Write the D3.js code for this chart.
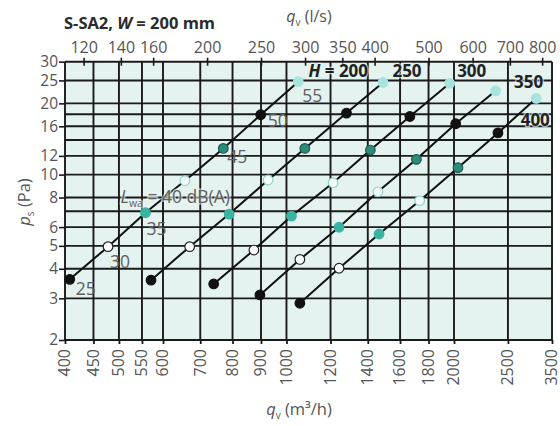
<!DOCTYPE html>
<html><head><meta charset="utf-8">
<script src="https://cdn.jsdelivr.net/npm/d3@7"></script>
<style>
html,body{margin:0;padding:0;background:#fff;}
svg text{font-family:"Open Sans","Noto Sans",sans-serif;}
</style></head>
<body>
<svg id="chart" width="560" height="426"></svg>
<script>
// ---- data ----
const xTickValues = [400,450,500,550,600,700,800,900,1000,1200,1400,1600,1800,2000,2500,3000];
const xTickLabels = ["400","450","500","550","600","700","800","900","1000","1200","1400","1600","1800","2000","2500","3500"];
const topTickValues = [120,140,160,200,250,300,350,400,500,600,700,800];
const yTickValues = [2,3,4,5,6,8,10,12,16,20,25,30];
const yGridValues = [2,3,4,5,6,7,8,10,12,14,16,18,20,25,30];
const lwaLevels = [25,30,35,40,45,50,55];
const heights = [200,250,300,350,400];
const q200 = [408,478,558,657,770,899,1050];
const p200 = [3.61,4.96,6.9,9.42,12.9,17.9,24.7];
const q250 = [571,670,789,927,1079,1282,1491];
const p250 = [3.58,4.96,6.81,9.49,12.9,18.2,24.5];
const q300 = [740,874,1021,1213,1415,1666,1965];
const p300 = [3.45,4.8,6.68,9.24,12.7,17.6,24.3];
const q350 = [896,1057,1243,1460,1712,2014,2376];
const p350 = [3.1,4.38,5.99,8.46,11.6,16.4,22.6];
const q400 = [1057,1243,1467,1735,2033,2399,2811];
const p400 = [2.86,4.02,5.61,7.76,10.7,15.0,21.0];

const seriesQ = [q200,q250,q300,q350,q400];
const seriesP = [p200,p250,p300,p350,p400];

// ---- styles ----
const markerFill = {25:"#111",30:"#ffffff",35:"#3ab3a3",40:"#f4fbfa",45:"#2e8b79",50:"#111",55:"#a8e4dd"};
const markerStroke = {25:"#111",30:"#222",35:"#3ab3a3",40:"#8fd4cb",45:"#1d5a50",50:"#111",55:"#a8e4dd"};
const lwaLabelOffset = {25:[6,16],30:[2,21],35:[1,22],45:[4,15],50:[7,12],55:[4,20]};
const hLabelOffset = [[40,-5],[24,-6],[22,-6],[33,-3],[-1,28]];

const svg = d3.select("#chart");
const X0 = 65, X1 = 552, Y0 = 61.7, Y1 = 340;
const x = d3.scaleLog().domain([400,3000]).range([X0,X1]);
const xTop = d3.scaleLog().domain([400/3.6,3000/3.6]).range([X0,X1]);
const y = d3.scaleLog().domain([2,30]).range([Y1,Y0]);
const tickColor = "#555";
const tickFont = 16;

// background
svg.append("rect").attr("x",X0).attr("y",Y0).attr("width",X1-X0).attr("height",Y1-Y0).attr("fill","#e4f2f0");

// grid
const grid = svg.append("g").attr("stroke","#1a1a1a").attr("stroke-width",1.9);
grid.selectAll("line.v").data(xTickValues).join("line").attr("class","v")
  .attr("x1",d=>x(d)).attr("x2",d=>x(d)).attr("y1",Y0).attr("y2",Y1);
grid.selectAll("line.h").data(yGridValues).join("line").attr("class","h")
  .attr("x1",X0).attr("x2",X1).attr("y1",d=>y(d)).attr("y2",d=>y(d));

// axes
const bottomAxis = svg.append("g").attr("transform",`translate(0,${Y1})`)
  .call(d3.axisBottom(x).tickValues(xTickValues).tickFormat((d,i)=>xTickLabels[i]).tickSize(4).tickSizeOuter(0));
bottomAxis.select(".domain").remove();
bottomAxis.selectAll(".tick line").attr("stroke","#1a1a1a").attr("stroke-width",1.8);
bottomAxis.selectAll(".tick text").attr("fill",tickColor).attr("font-size",tickFont)
  .attr("transform","rotate(-90)").attr("text-anchor","end").attr("x",-9).attr("y",0).attr("dy","0.3em");

const leftAxis = svg.append("g").attr("transform",`translate(${X0},0)`)
  .call(d3.axisLeft(y).tickValues(yTickValues).tickFormat(d3.format("d")).tickSize(6).tickSizeOuter(0));
leftAxis.select(".domain").remove();
leftAxis.selectAll(".tick line").attr("stroke","#1a1a1a").attr("stroke-width",1.6);
leftAxis.selectAll(".tick text").attr("fill",tickColor).attr("font-size",15.5).attr("x",-7);

const topAxis = svg.append("g").attr("transform",`translate(0,${Y0})`)
  .call(d3.axisTop(xTop).tickValues(topTickValues).tickFormat(d3.format("d")).tickSize(4).tickSizeOuter(0));
topAxis.select(".domain").remove();
topAxis.selectAll(".tick line").attr("stroke","#1a1a1a").attr("stroke-width",1.6).attr("y2",-4).attr("y1",4);
topAxis.selectAll(".tick text").attr("fill",tickColor).attr("font-size",tickFont).attr("y",-8.5);

// titles
const title = svg.append("text").attr("x",X0-1).attr("y",29).attr("font-size",16.5).attr("font-weight","bold").attr("fill","#2b2b2b");
title.append("tspan").text("S-SA2, ");
title.append("tspan").attr("font-style","italic").text("W");
title.append("tspan").text(" = 200 mm");

function unitTitle(sel, sym, sub, rest){
  sel.append("tspan").attr("font-style","italic").text(sym);
  sel.append("tspan").attr("font-size",10).attr("dy",4).text(sub);
  sel.append("tspan").attr("dy",-4).text(rest);
}
unitTitle(svg.append("text").attr("x",309).attr("y",22).attr("text-anchor","middle").attr("font-size",16).attr("fill",tickColor), "q","v"," (l/s)");
unitTitle(svg.append("text").attr("x",299).attr("y",415).attr("text-anchor","middle").attr("font-size",16.5).attr("fill",tickColor), "q","v"," (m³/h)");
unitTitle(svg.append("text").attr("transform","translate(30,202) rotate(-90)").attr("text-anchor","middle").attr("font-size",16.5).attr("fill",tickColor), "p","s"," (Pa)");

// lines
const line = d3.line().x(d=>x(d[0])).y(d=>y(d[1]));
const seriesData = heights.map((h,i)=>({h, pts: seriesQ[i].map((q,j)=>[q, seriesP[i][j], lwaLevels[j]])}));
svg.append("g").selectAll("path").data(seriesData).join("path")
  .attr("d",d=>line(d.pts)).attr("fill","none").attr("stroke","#111").attr("stroke-width",2);

// Lwa labels on the first series
const first = seriesData[0].pts;
const lg = svg.append("g").attr("font-size",17.5).attr("fill","#5e5e5e");
lg.selectAll("text").data(first.filter(d=>d[2]!==40)).join("text")
  .attr("x",d=>x(d[0])+lwaLabelOffset[d[2]][0]).attr("y",d=>y(d[1])+lwaLabelOffset[d[2]][1]).text(d=>d[2]);
const p40 = first.find(d=>d[2]===40);
const lw = svg.append("text").attr("x",x(p40[0])+45).attr("y",y(p40[1])+22).attr("text-anchor","end")
  .attr("font-size",17.5).attr("fill","#5e5e5e")
  .attr("stroke","#eaf6f4").attr("stroke-width",3).attr("stroke-opacity",0.6).attr("paint-order","stroke");
lw.append("tspan").attr("font-style","italic").text("L");
lw.append("tspan").attr("font-size",10.5).attr("dy",4).text("wa");
lw.append("tspan").attr("dy",-4).text(" = 40 dB(A)");

// markers
svg.append("g").selectAll("g").data(seriesData).join("g")
  .selectAll("circle").data(d=>d.pts).join("circle")
  .attr("cx",d=>x(d[0])).attr("cy",d=>y(d[1])).attr("r",4.8)
  .attr("fill",d=>markerFill[d[2]]).attr("stroke",d=>markerStroke[d[2]]).attr("stroke-width",1.2);

// series labels (H)
const hg = svg.append("g").attr("font-size",17).attr("font-weight","bold").attr("fill","#222").attr("text-anchor","middle");
seriesData.forEach((s,i)=>{
  const last = s.pts[s.pts.length-1];
  const t = hg.append("text").attr("x",x(last[0])+hLabelOffset[i][0]).attr("y",y(last[1])+hLabelOffset[i][1])
    .attr("stroke","#e4f2f0").attr("stroke-width",2.5).attr("stroke-opacity",0.7).attr("paint-order","stroke");
  if(i===0){
    t.append("tspan").attr("font-style","italic").text("H");
    t.append("tspan").text(" = " + s.h);
  } else t.text(s.h);
});
</script>
</body></html>
